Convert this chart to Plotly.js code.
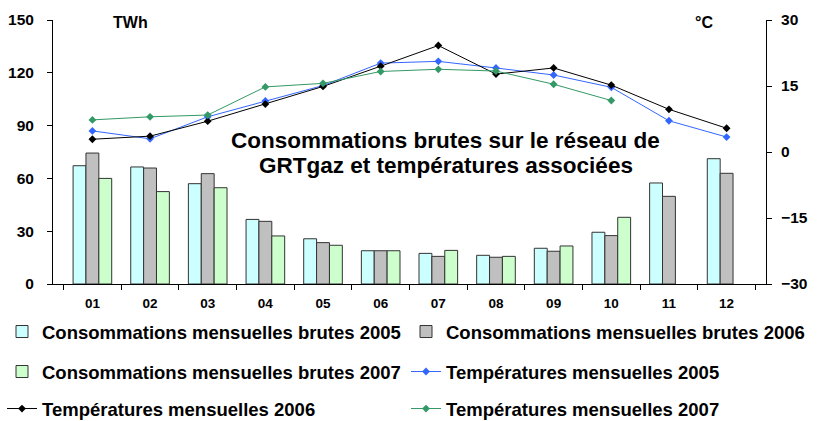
<!DOCTYPE html>
<html><head><meta charset="utf-8">
<script src="https://cdn.plot.ly/plotly-3.0.1.min.js"></script>
<style>html,body{margin:0;padding:0;background:#fff;}#chart{width:823px;height:421px;}</style>
</head><body><div id="chart"></div>
<script>
const months = ["01","02","03","04","05","06","07","08","09","10","11","12"];
const cons2005 = [67.2, 66.5, 57.0, 36.7, 25.7, 18.9, 17.4, 16.3, 20.3, 29.4, 57.4, 71.2];
const cons2006 = [74.4, 65.9, 62.7, 35.6, 23.5, 18.9, 15.7, 15.2, 18.6, 27.5, 49.8, 62.9];
const cons2007 = [60.0, 52.5, 54.7, 27.3, 22.0, 18.9, 19.1, 15.7, 21.6, 37.9, null, null];
const temp2005 = [4.8, 3.0, 8.0, 11.6, 15.1, 20.2, 20.6, 19.1, 17.5, 14.7, 7.1, 3.4];
const temp2006 = [2.9, 3.6, 7.0, 10.9, 14.9, 19.5, 24.2, 17.7, 19.1, 15.2, 9.7, 5.4];
const temp2007 = [7.3, 8.0, 8.4, 14.8, 15.6, 18.3, 18.8, 18.4, 15.4, 11.7, null, null];
const seriesNames = [
  "Consommations mensuelles brutes 2005",
  "Consommations mensuelles brutes 2006",
  "Consommations mensuelles brutes 2007",
  "Températures mensuelles 2005",
  "Températures mensuelles 2006",
  "Températures mensuelles 2007"
];
const titleLines = ["Consommations brutes sur le réseau de", "GRTgaz et températures associées"];
const leftUnit = "TWh";
const rightUnit = "°C";

const FONT = "Liberation Sans, Arial, sans-serif";
const barLine = {color: "#333333", width: 1};
const traces = [
  {type:"bar", x: months, y: cons2005, name: seriesNames[0], marker:{color:"#CCFFFF", line: barLine}, legend:"legend"},
  {type:"bar", x: months, y: cons2006, name: seriesNames[1], marker:{color:"#C0C0C0", line: barLine}, legend:"legend2"},
  {type:"bar", x: months, y: cons2007, name: seriesNames[2], marker:{color:"#CCFFCC", line: barLine}, legend:"legend3"},
  {type:"scatter", mode:"lines+markers", x: months, y: temp2005, yaxis:"y2", name: seriesNames[3], line:{color:"#3366FF", width:1}, marker:{symbol:"diamond", size:6, color:"#3366FF"}, legend:"legend4"},
  {type:"scatter", mode:"lines+markers", x: months, y: temp2006, yaxis:"y2", name: seriesNames[4], line:{color:"#000000", width:1}, marker:{symbol:"diamond", size:6, color:"#000000"}, legend:"legend5"},
  {type:"scatter", mode:"lines+markers", x: months, y: temp2007, yaxis:"y2", name: seriesNames[5], line:{color:"#339966", width:1}, marker:{symbol:"diamond", size:6, color:"#339966"}, legend:"legend6"}
];

const legFont = {family: FONT, size: 18.5, color: "#000", weight: "bold"};
function leg(xpx, ypx){
  return {orientation:"h", xref:"container", yref:"container", x: xpx/823, xanchor:"left", y: 1 - ypx/421, yanchor:"middle",
          font: legFont, bgcolor:"rgba(0,0,0,0)", borderwidth:0, traceorder:"normal", itemclick:false};
}
const tickFont = {family: FONT, size: 15.5, color: "#000", weight: "bold"};
const unitFont = {family: FONT, size: 16, color: "#000", weight: "bold"};
const titleFont = {family: FONT, size: 22.5, color: "#000", weight: "bold"};
const layout = {
  width: 823, height: 421,
  margin: {l:53, r:57, t:20, b:137, autoexpand:false},
  paper_bgcolor:"#fff", plot_bgcolor:"#fff",
  barmode:"group", bargap:0.33, bargroupgap:0,
  showlegend:true,
  xaxis: {type:"category", showline:true, linecolor:"#000", linewidth:1, ticks:"outside", tickson:"boundaries",
          ticklen:5, tickcolor:"#000", tickfont:{family:FONT, size:13.5, color:"#000", weight:"bold"}, showgrid:false, zeroline:false,
          ticklabelstandoff:7},
  yaxis: {range:[0,150], dtick:30, showline:true, linecolor:"#000", linewidth:1, ticks:"outside", ticklen:5, tickcolor:"#000",
          tickfont: tickFont, showgrid:false, zeroline:false, ticklabelstandoff:10},
  yaxis2: {range:[-30,30], dtick:15, overlaying:"y", side:"right", showline:true, linecolor:"#000", linewidth:1, ticks:"outside",
           ticklen:5, tickcolor:"#000", tickfont: tickFont, showgrid:false, zeroline:false, ticklabelstandoff:6},
  legend: leg(2, 332),
  legend2: leg(406, 332),
  legend3: leg(2, 372),
  legend4: leg(406, 372),
  legend5: leg(2, 409),
  legend6: leg(406, 409),
  annotations: [
    {text: titleLines[0], xref:"paper", yref:"paper", x:0.5505, y:0.5417, xanchor:"center", yanchor:"middle",
     showarrow:false, font: titleFont},
    {text: titleLines[1], xref:"paper", yref:"paper", x:0.551, y:0.447, xanchor:"center", yanchor:"middle",
     showarrow:false, font: titleFont},
    {text: leftUnit, xref:"paper", yref:"paper", x:0.1087, y:0.9924, xanchor:"center", yanchor:"middle", showarrow:false, font: unitFont},
    {text: rightUnit, xref:"paper", yref:"paper", x:0.9137, y:0.9924, xanchor:"center", yanchor:"middle", showarrow:false, font: unitFont}
  ]
};
Plotly.newPlot("chart", traces, layout, {displayModeBar:false, staticPlot:true});
</script></body></html>
